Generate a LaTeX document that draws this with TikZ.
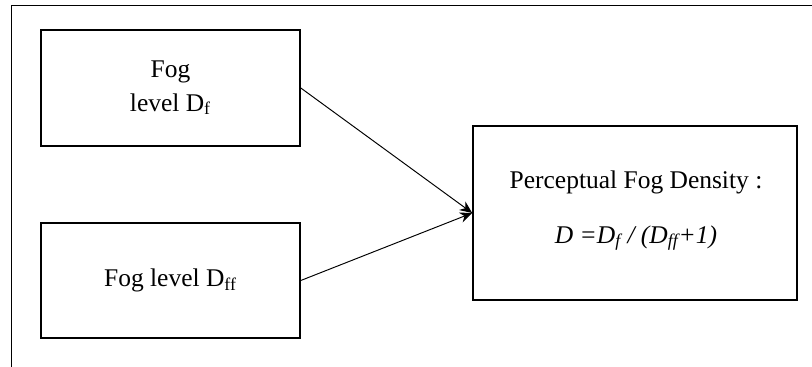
\documentclass[tikz,border=0pt]{standalone}
\usepackage{fontspec}
\setmainfont{Liberation Serif}
\usepackage{tikz}
\usetikzlibrary{arrows.meta,positioning}

\begin{document}
\begin{tikzpicture}[
  every node/.style={font=\fontsize{14.5}{17}\selectfont},
  box/.style={draw, line width=0.9pt, minimum width=5.18cm,
              minimum height=2.31cm, align=center, inner sep=0pt},
  link/.style={-{Stealth[length=7pt,width=6pt]}, line width=0.55pt},
  >=Stealth
]
\useasboundingbox (0,0) rectangle (16.24,-7.34);

%% ---- Outer frame (top and left edges only) --------------------------
\coordinate (frameTL) at (0.23,-0.11);
\coordinate (frameTR) at (16.24,-0.11);
\coordinate (frameBL) at (0.23,-7.34);
\draw[line width=1.1pt] (frameTR) -- (frameTL) -- (frameBL);

%% ---- Input boxes (left) ---------------------------------------------
\node[box] (fogf)  at (3.41,-1.76) {Fog\\[2pt]level D\textsubscript{f}};
\node[box] (fogff) at (3.41,-5.61) {Fog level D\textsubscript{ff}};

%% ---- Result box (right) ---------------------------------------------
\node[box, minimum width=6.48cm, minimum height=3.48cm] (density)
     at (12.70,-4.26) {};
\node (densTitle) at (12.72,-3.64) {Perceptual Fog Density :};
\node (densForm)  at (12.72,-4.76)
     {\textit{D =D\textsubscript{f} / (D\textsubscript{ff}+1)}};

%% ---- Connectors -----------------------------------------------------
\draw[link] (fogf.east)  -- (density.west);
\draw[link] (fogff.east) -- (density.west);

\end{tikzpicture}
\end{document}
